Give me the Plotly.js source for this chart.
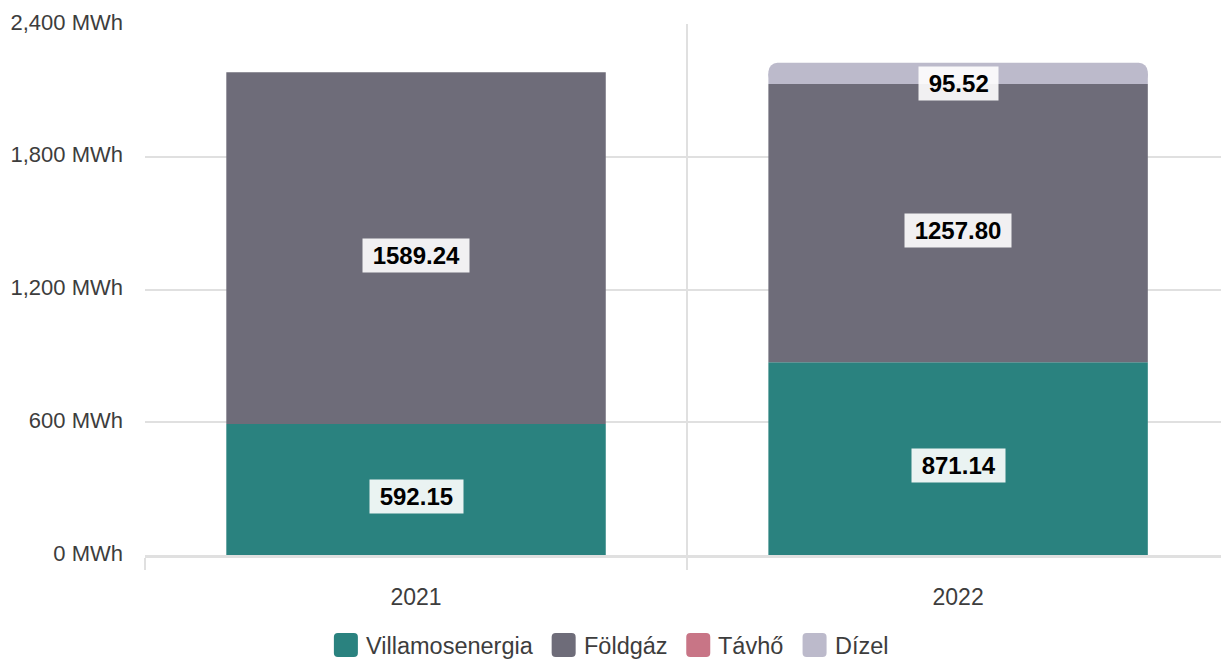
<!DOCTYPE html>
<html>
<head>
<meta charset="utf-8">
<script src="https://cdn.plot.ly/plotly-3.0.1.min.js"></script>
<style>html,body{margin:0;padding:0;background:#fff;}#chart{width:1221px;height:659px;}</style>
</head>
<body>
<div id="chart"></div>
<script>
const years = ['2021', '2022'];
const seriesNames = ['Villamosenergia', 'Földgáz', 'Távhő', 'Dízel'];
const villamosenergia = [592.15, 871.14];
const foldgaz = [1589.24, 1257.80];
const tavho = [0, 0];
const dizel = [0, 95.52];
const yTicks = [0, 600, 1200, 1800, 2400];

const seriesValues = [villamosenergia, foldgaz, tavho, dizel];
const colors = ['#2a827f', '#6e6c79', '#c87586', '#bcbacb'];
const FONT = 'Liberation Sans, Arial, sans-serif';

const W = 1221, H = 659;
const M = {l: 145, r: 0, t: 24, b: 104};
const plotW = W - M.l - M.r, plotH = H - M.t - M.b;

// cumulative bases (stacking done from the data)
const bases = [];
const running = years.map(() => 0);
seriesValues.forEach(vals => {
  bases.push(running.slice());
  vals.forEach((v, j) => { running[j] += v; });
});
const totals = running.slice();

const traces = [];
seriesValues.forEach((vals, i) => {
  const xs = [], ys = [], bs = [];
  vals.forEach((v, j) => { if (v > 0) { xs.push(years[j]); ys.push(v); bs.push(bases[i][j]); } });
  const common = {
    type: 'bar', name: seriesNames[i],
    x: xs, base: bs, width: 0.7,
    hoverinfo: 'skip', showlegend: false
  };
  if (i === 3) {
    // top series: rounded top corners only (lower half re-drawn square)
    traces.push(Object.assign({}, common, {y: ys, marker: {color: colors[i], line: {width: 0}, cornerradius: 9}}));
    traces.push(Object.assign({}, common, {y: ys.map(v => v / 2), marker: {color: colors[i], line: {width: 0}}}));
  } else {
    traces.push(Object.assign({}, common, {y: ys, marker: {color: colors[i], line: {width: 0}}}));
  }
});

// value labels near segment centres
const annotations = [];
years.forEach((yr, j) => {
  seriesValues.forEach((vals, i) => {
    const v = vals[j];
    if (v > 0) {
      const small = v < 200;
      annotations.push({
        x: j, xref: 'x',
        y: small ? totals[j] : bases[i][j] + v / 2, yref: 'y',
        yanchor: small ? 'top' : 'middle',
        yshift: small ? -3 : -7,
        text: '\u00a0' + v.toFixed(2) + '\u00a0',
        showarrow: false,
        font: {family: FONT, size: 24, color: '#000', weight: 'bold'},
        bgcolor: 'rgba(255,255,255,0.9)',
        borderpad: 3
      });
    }
  });
});

// custom legend (rounded squares + text), laid out by measured text width
const LEG_FONT = 23.5, SQ = 24, GAP_SQ_TXT = 7, GAP_ITEM = 20, LEG_CY = 645;
const ctx = document.createElement('canvas').getContext('2d');
ctx.font = LEG_FONT + 'px "Liberation Sans", Arial, sans-serif';
const widths = seriesNames.map(n => ctx.measureText(n).width);
const totalW = widths.reduce((s, w) => s + SQ + GAP_SQ_TXT + w, 0) + GAP_ITEM * (seriesNames.length - 1);
let cx = (W - totalW) / 2;
const shapes = [];
const px2x = px => (px - M.l) / plotW;
const py2y = py => (H - M.b - py) / plotH;
const r = 4, h = SQ / 2;
const roundRect = `M ${-h + r} ${-h} L ${h - r} ${-h} Q ${h} ${-h} ${h} ${-h + r} L ${h} ${h - r} Q ${h} ${h} ${h - r} ${h} L ${-h + r} ${h} Q ${-h} ${h} ${-h} ${h - r} L ${-h} ${-h + r} Q ${-h} ${-h} ${-h + r} ${-h} Z`;
seriesNames.forEach((n, i) => {
  shapes.push({
    type: 'path', xref: 'paper', yref: 'paper',
    xsizemode: 'pixel', ysizemode: 'pixel',
    xanchor: px2x(cx + h), yanchor: py2y(LEG_CY),
    path: roundRect,
    fillcolor: colors[i], line: {width: 0}
  });
  annotations.push({
    xref: 'paper', yref: 'paper',
    x: px2x(cx + SQ + GAP_SQ_TXT), y: py2y(LEG_CY + 1),
    xanchor: 'left', yanchor: 'middle',
    text: n, showarrow: false,
    font: {family: FONT, size: LEG_FONT, color: '#3d3d3d'},
    borderpad: 0
  });
  cx += SQ + GAP_SQ_TXT + widths[i] + GAP_ITEM;
});

const layout = {
  width: W, height: H,
  margin: M,
  paper_bgcolor: '#fff', plot_bgcolor: '#fff',
  barmode: 'overlay',
  font: {family: FONT, size: 20, color: '#3d3d3d'},
  showlegend: false,
  xaxis: {
    type: 'category',
    categoryorder: 'array', categoryarray: years,
    range: [-0.5, 1.485],
    tickson: 'boundaries',
    showgrid: true, gridcolor: '#e0e0e0', gridwidth: 2,
    ticks: 'outside', ticklen: 12, tickcolor: '#e0e0e0', tickwidth: 2,
    showline: true, linecolor: '#e0e0e0', linewidth: 3,
    tickfont: {family: FONT, size: 23, color: '#3d3d3d'},
    ticklabelstandoff: 19,
    fixedrange: true
  },
  yaxis: {
    range: [0, 2400],
    tickvals: yTicks,
    ticktext: yTicks.map(v => v.toLocaleString('en-US') + ' MWh'),
    showgrid: true, gridcolor: '#e0e0e0', gridwidth: 2,
    zeroline: false,
    showline: false,
    ticks: '',
    tickfont: {family: FONT, size: 22, color: '#3d3d3d'},
    ticklabelstandoff: 21,
    ticklabelshift: -2,
    fixedrange: true
  },
  shapes: shapes,
  annotations: annotations
};

Plotly.newPlot('chart', traces, layout, {displayModeBar: false, staticPlot: true});
</script>
</body>
</html>
